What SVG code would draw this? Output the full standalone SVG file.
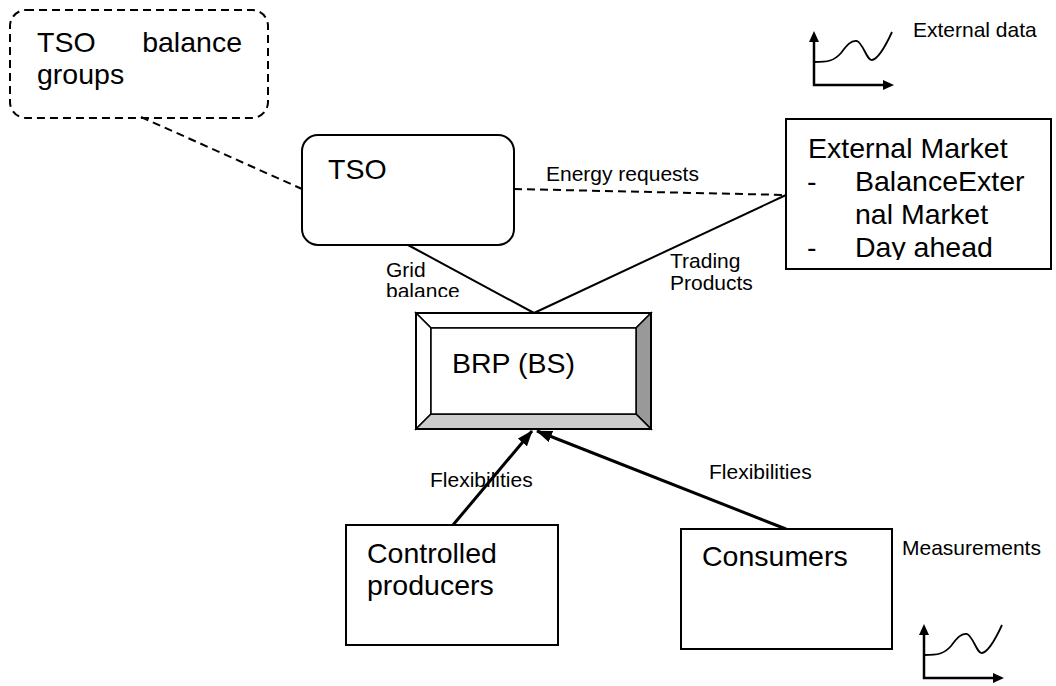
<svg xmlns="http://www.w3.org/2000/svg" xmlns:xlink="http://www.w3.org/1999/xlink" width="1056" height="686" viewBox="0 0 1056 686">
  <style>
    text { font-family: "Liberation Sans", Arial, sans-serif; fill: #000; }
    .big { font-size: 28.5px; }
    .small { font-size: 21px; }
    .box { fill: #fff; stroke: #000; stroke-width: 2; }
    .dashed { fill: none; stroke: #000; stroke-width: 2; stroke-dasharray: 8 5; }
    .line { fill: none; stroke: #000; stroke-width: 2; }
    .arrow { fill: none; stroke: #000; stroke-width: 3; marker-end: url(#head); }
    .axis { fill: none; stroke: #000; stroke-width: 2.5; }
    .curve { fill: none; stroke: #000; stroke-width: 1.8; }
  </style>
  <defs>
    <marker id="head" viewBox="0 0 16 12" refX="15" refY="6" markerWidth="16" markerHeight="12" markerUnits="userSpaceOnUse" orient="auto">
      <path d="M0,0 L16,6 L0,12 Z" fill="#000"/>
    </marker>
    <!-- small chart icon: axes with arrowheads and a wave -->
    <g id="chart">
      <path class="axis" d="M0,-44 V0 H70"/>
      <path d="M-5,-43 L0,-54 L5,-43 Z" fill="#000"/>
      <path d="M69,-5 L80,0 L69,5 Z" fill="#000"/>
      <path class="curve" d="M0,-23 C14,-23 20,-24 27,-32 C33,-40 37,-45 43,-44 C49,-42 53,-24 58,-25 C64,-26 72,-40 78,-53"/>
    </g>
    <clipPath id="clipMarket"><rect x="786" y="119" width="265" height="141"/></clipPath>
    <clipPath id="clipGrid"><rect x="370" y="250" width="120" height="47"/></clipPath>
  </defs>

  <!-- connectors -->
  <g id="connectors">
    <text class="small" x="546" y="181">Energy requests</text>
    <g clip-path="url(#clipGrid)">
      <text class="small" x="386" y="277">Grid</text>
      <text class="small" x="386" y="298">balance</text>
    </g>
    <text class="small" x="670" y="268">Trading</text>
    <text class="small" x="670" y="290">Products</text>
    <text class="small" x="430" y="487">Flexibilities</text>
    <text class="small" x="709" y="479">Flexibilities</text>
    <line class="dashed" x1="141" y1="117" x2="302" y2="189"/>
    <line class="dashed" x1="514" y1="189" x2="786" y2="195"/>
    <line class="line" x1="408" y1="245" x2="534" y2="313"/>
    <line class="line" x1="534" y1="313" x2="786" y2="195"/>
    <line class="arrow" x1="453" y1="525" x2="532" y2="431"/>
    <line class="arrow" x1="786" y1="529" x2="537" y2="431"/>
  </g>

  <!-- TSO balance groups -->
  <g id="tso-balance-groups">
    <rect class="dashed" x="10" y="10" width="258" height="108" rx="16"/>
    <text class="big" x="37" y="52">TSO</text>
    <text class="big" x="242" y="52" text-anchor="end">balance</text>
    <text class="big" x="37" y="84">groups</text>
  </g>

  <!-- TSO -->
  <g id="tso">
    <rect class="box" x="302" y="135" width="212" height="110" rx="16"/>
    <text class="big" x="328" y="179">TSO</text>
  </g>

  <!-- External market -->
  <g id="external-market">
    <rect class="box" x="786" y="119" width="265" height="150"/>
    <g clip-path="url(#clipMarket)">
      <text class="big" x="808" y="158">External Market</text>
      <text class="big" x="807" y="191">-</text>
      <text class="big" x="855" y="191">BalanceExter</text>
      <text class="big" x="855" y="224">nal Market</text>
      <text class="big" x="807" y="257">-</text>
      <text class="big" x="855" y="257">Day ahead</text>
    </g>
  </g>

  <!-- BRP (BS) bevelled box -->
  <g id="brp">
    <path d="M416,313 H651 L636,328 H431 Z" fill="#fff" stroke="#000" stroke-width="1.5"/>
    <path d="M416,313 L431,328 V414 L416,429 Z" fill="#fff" stroke="#000" stroke-width="1.5"/>
    <path d="M651,313 V429 L636,414 V328 Z" fill="#999" stroke="#000" stroke-width="1.5"/>
    <path d="M416,429 L431,414 H636 L651,429 Z" fill="#ccc" stroke="#000" stroke-width="1.5"/>
    <rect x="431" y="328" width="205" height="86" fill="#fff" stroke="#000" stroke-width="1.5"/>
    <rect x="416" y="313" width="235" height="116" fill="none" stroke="#000" stroke-width="2"/>
    <text class="big" x="452" y="373">BRP (BS)</text>
  </g>

  <!-- Controlled producers -->
  <g id="controlled-producers">
    <rect class="box" x="346" y="525" width="212" height="120"/>
    <text class="big" x="367" y="563">Controlled</text>
    <text class="big" x="367" y="595">producers</text>
  </g>

  <!-- Consumers -->
  <g id="consumers">
    <rect class="box" x="681" y="529" width="211" height="120"/>
    <text class="big" x="702" y="566">Consumers</text>
  </g>

  <!-- External data -->
  <g id="external-data">
    <use xlink:href="#chart" x="814" y="85"/>
    <text class="small" x="913" y="37">External data</text>
  </g>

  <!-- Measurements -->
  <g id="measurements">
    <use xlink:href="#chart" x="924" y="678"/>
    <text class="small" x="902" y="555">Measurements</text>
  </g>
</svg>
